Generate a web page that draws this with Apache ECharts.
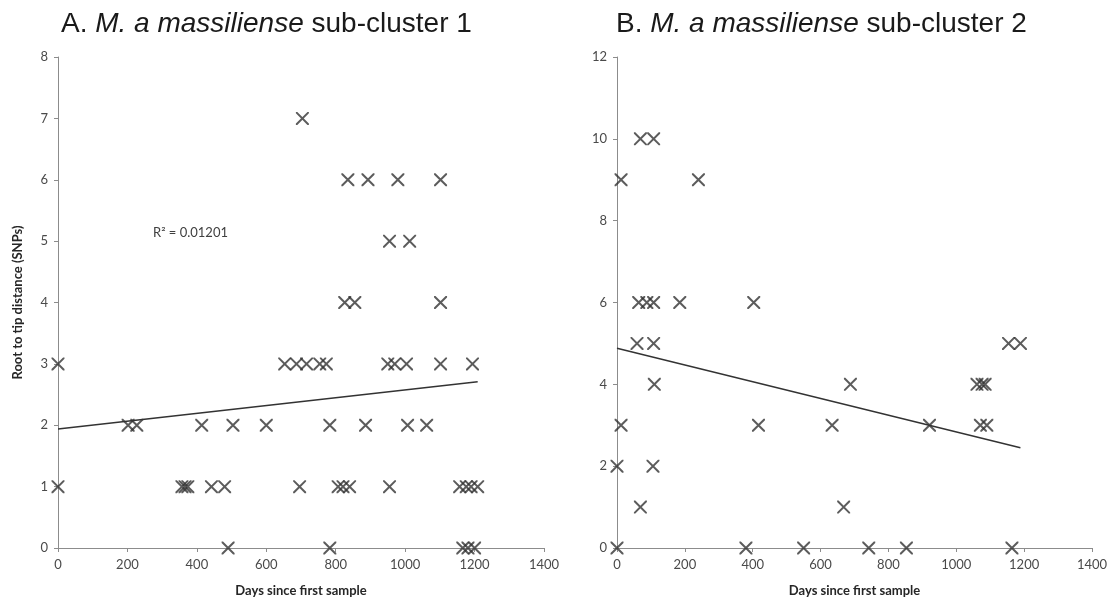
<!DOCTYPE html>
<html lang="en">
<head>
    <meta charset="UTF-8">
    <script src="https://cdn.jsdelivr.net/npm/echarts@6/dist/echarts.min.js"></script>
    <title>Root to tip distance</title>
    <style>
        html, body { margin: 0; padding: 0; background: #fff; }
        #main { width: 1115px; height: 608px; }
    </style>
</head>
<body>
<div id="main"></div>
<script>
    // sub-cluster 1: [days, SNPs]
    var pointsA = [
        [0, 3], [0, 1],
        [202, 2], [227, 2], [414, 2], [504, 2], [600, 2],
        [783, 2], [886, 2], [1007, 2], [1062, 2],
        [357, 1], [366, 1], [374, 1], [442, 1], [480, 1], [696, 1],
        [807, 1], [821, 1], [840, 1], [955, 1],
        [1157, 1], [1176, 1], [1190, 1], [1209, 1],
        [490, 0], [783, 0], [1166, 0], [1181, 0], [1200, 0],
        [653, 3], [687, 3], [716, 3], [754, 3], [773, 3],
        [950, 3], [970, 3], [1004, 3], [1102, 3], [1194, 3],
        [826, 4], [855, 4], [1102, 4],
        [955, 5], [1013, 5],
        [835, 6], [893, 6], [979, 6], [1102, 6],
        [704, 7]
    ];
    var trendA = [[0, 1.94], [1209, 2.71]];
    var r2A = 'R² = 0.01201';

    // sub-cluster 2: [days, SNPs]
    var pointsB = [
        [69, 10], [108, 10],
        [12, 9], [240, 9],
        [64, 6], [88, 6], [108, 6], [185, 6], [403, 6],
        [59, 5], [108, 5], [1154, 5], [1189, 5],
        [110, 4], [688, 4], [1061, 4], [1076, 4], [1085, 4],
        [12, 3], [417, 3], [634, 3], [921, 3], [1071, 3], [1090, 3],
        [0, 2], [106, 2],
        [69, 1], [668, 1],
        [0, 0], [380, 0], [550, 0], [742, 0], [853, 0], [1164, 0]
    ];
    var trendB = [[0, 4.88], [1189, 2.45]];

    var xTicks = [0, 1400, 200];
    var yTicksA = [0, 8, 1];
    var yTicksB = [0, 12, 2];

    var crossPath = 'path://M0,0L1.1,0L10,8.9L10,10L8.9,10L0,1.1Z M8.9,0L10,0L10,1.1L1.1,10L0,10L0,8.9Z';
    var labelFont = { color: '#4a4a4a', fontFamily: 'Lato', fontSize: 13 };
    var nameFont = { fontFamily: 'Lato', fontWeight: 'bold', fontSize: 13, color: '#262626' };

    function xAxis(idx) {
        return {
            type: 'value', gridIndex: idx,
            min: xTicks[0], max: xTicks[1], interval: xTicks[2],
            name: 'Days since first sample', nameLocation: 'middle', nameGap: 36,
            nameTextStyle: nameFont,
            axisLine: { lineStyle: { color: '#8c8c8c', width: 1 } },
            axisTick: { show: true, length: 4, lineStyle: { color: '#8c8c8c' } },
            axisLabel: Object.assign({ margin: 10, formatter: function (v) { return String(v); } }, labelFont),
            splitLine: { show: false }
        };
    }
    function yAxis(idx, t, name) {
        return {
            type: 'value', gridIndex: idx,
            min: t[0], max: t[1], interval: t[2],
            name: name, nameLocation: 'middle', nameGap: 34, nameRotate: 90,
            nameTextStyle: nameFont,
            axisLine: { show: true, lineStyle: { color: '#8c8c8c', width: 1 } },
            axisTick: { show: true, length: 4, lineStyle: { color: '#8c8c8c' } },
            axisLabel: Object.assign({ margin: 10 }, labelFont),
            splitLine: { show: false }
        };
    }
    function scatter(idx, data) {
        return {
            type: 'scatter', xAxisIndex: idx, yAxisIndex: idx, data: data,
            symbol: crossPath, symbolSize: 13,
            itemStyle: { color: '#333' }, z: 3
        };
    }
    function trend(idx, data) {
        return {
            type: 'line', xAxisIndex: idx, yAxisIndex: idx, data: data,
            showSymbol: false, lineStyle: { color: '#333', width: 1.5 }, z: 2
        };
    }
    var titleRich = {
        n: { fontFamily: 'Liberation Sans', fontSize: 28, fontWeight: 'normal', color: '#1a1a1a' },
        i: { fontFamily: 'Liberation Sans', fontSize: 28, fontWeight: 'normal', fontStyle: 'italic', color: '#1a1a1a' }
    };

    var myChart = echarts.init(document.getElementById('main'));
    var option = {
        backgroundColor: '#fff',
        animation: false,
        title: [
            { text: '{n|A. }{i|M. a massiliense}{n| sub-cluster 1}', left: 56, top: 5, textStyle: { fontWeight: 'normal', rich: titleRich } },
            { text: '{n|B. }{i|M. a massiliense}{n| sub-cluster 2}', left: 611, top: 5, textStyle: { fontWeight: 'normal', rich: titleRich } }
        ],
        grid: [
            { left: 58, top: 57, width: 486, bottom: 60 },
            { left: 617, top: 57, right: 23, bottom: 60 }
        ],
        xAxis: [xAxis(0), xAxis(1)],
        yAxis: [yAxis(0, yTicksA, 'Root to tip distance (SNPs)'), yAxis(1, yTicksB, '')],
        graphic: [
            { type: 'text', left: 153, top: 226, style: { text: r2A, fontFamily: 'Lato', fontSize: 13, fill: '#404040' } }
        ],
        series: [scatter(0, pointsA), trend(0, trendA), scatter(1, pointsB), trend(1, trendB)]
    };
    myChart.setOption(option);
</script>
</body>
</html>
